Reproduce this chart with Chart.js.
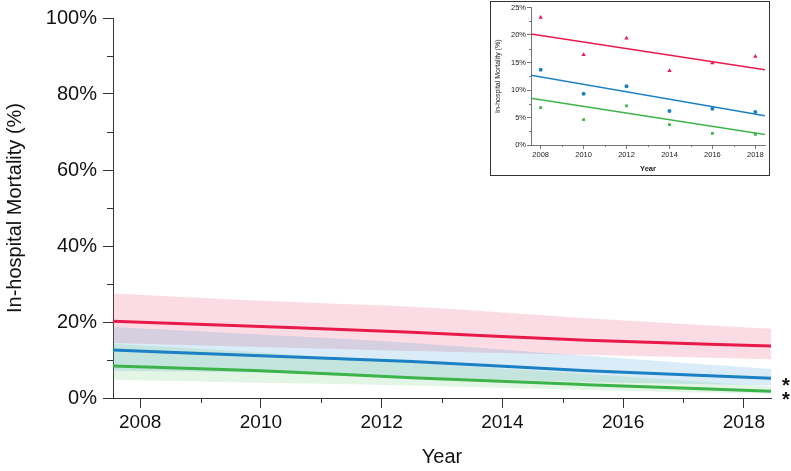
<!DOCTYPE html>
<html>
<head>
<meta charset="utf-8">
<script src="https://cdn.jsdelivr.net/npm/chart.js@4.4.1/dist/chart.umd.min.js"></script>
<style>
  html, body { margin: 0; padding: 0; background: #fff; }
  #wrap { position: relative; width: 791px; height: 471px; }
  #main { position: absolute; left: 0; top: 0; }
  #insetBox { position: absolute; left: 490px; top: 1px; width: 278px; height: 173px; border: 1px solid #333; background: #fff; }
  #inset { position: absolute; left: 0; top: 0; }
</style>
</head>
<body>
<div id="wrap">
  <canvas id="main" width="791" height="471"></canvas>
  <div id="insetBox"><canvas id="inset" width="278" height="173"></canvas></div>
</div>
<script>
// ---- main chart data (model fit with confidence band) ----
const fitYears   = [2007.55, 2010, 2012.5, 2015.4, 2018.45];
const redFit     = [20.2, 18.8, 17.3, 15.2, 13.7];
const redUpper   = [27.5, 25.6, 24.0, 21.0, 18.2];
const redLower   = [14.5, 13.4, 12.4, 11.3, 10.2];
const blueFit    = [12.6, 11.1, 9.6, 7.2, 5.2];
const blueUpper  = [18.7, 16.7, 14.5, 11.1, 7.6];
const blueLower  = [7.2, 6.7, 5.6, 4.2, 3.3];
const greenFit   = [8.4, 7.2, 5.3, 3.5, 1.8];
const greenUpper = [14.3, 12.0, 9.3, 6.3, 3.0];
const greenLower = [4.8, 4.0, 3.3, 2.1, 1.1];
const mainYTicks = [0, 20, 40, 60, 80, 100];
const mainYMinor = [10, 30, 50, 70, 90];
const mainXTicks = [2008, 2010, 2012, 2014, 2016, 2018];
const mainXMinor = [2009, 2011, 2013, 2015, 2017];

// ---- inset data (observed yearly values and linear trends) ----
const obsYears   = [2008, 2010, 2012, 2014, 2016, 2018];
const redObs     = [23.2, 16.4, 19.4, 13.5, 14.9, 16.1];
const blueObs    = [13.7, 9.3, 10.7, 6.2, 6.6, 6.0];
const greenObs   = [6.8, 4.6, 7.1, 3.7, 2.1, 1.95];
const trendYears = [2007.55, 2018.45];
const redTrend   = [20.2, 13.7];
const blueTrend  = [12.7, 5.3];
const greenTrend = [8.5, 1.9];
const insetYTicks = [0, 5, 10, 15, 20, 25];
const insetYMinor = [2.5, 7.5, 12.5, 17.5, 22.5];
const insetXTicks = [2008, 2010, 2012, 2014, 2016, 2018];
const insetXMinor = [2009, 2011, 2013, 2015, 2017];

const RED = '#e8194b', BLUE = '#1b80c4', GREEN = '#3cb44a';
const RED_BAND = 'rgba(240,80,120,0.20)';
const BLUE_BAND = 'rgba(30,140,210,0.17)';
const GREEN_BAND = 'rgba(70,190,80,0.15)';

const pts = (xs, ys) => xs.map((x, i) => ({x: x, y: ys[i]}));

const minorTicksPlugin = {
  id: 'minorTicks',
  afterDraw(chart, args, opts) {
    const ctx = chart.ctx;
    const xs = chart.scales.x, ys = chart.scales.y;
    ctx.save();
    ctx.strokeStyle = opts.color;
    ctx.lineWidth = 1;
    ctx.beginPath();
    (opts.y || []).forEach(v => {
      const py = Math.round(ys.getPixelForValue(v)) + 0.5;
      ctx.moveTo(ys.right, py); ctx.lineTo(ys.right - opts.lenY, py);
    });
    (opts.x || []).forEach(v => {
      const px = Math.round(xs.getPixelForValue(v)) + 0.5;
      ctx.moveTo(px, xs.top); ctx.lineTo(px, xs.top + opts.lenX);
    });
    ctx.stroke();
    ctx.restore();
  }
};

const asteriskPlugin = {
  id: 'asterisks',
  afterDraw(chart, args, opts) {
    if (!opts.items) return;
    const ctx = chart.ctx;
    const ys = chart.scales.y;
    ctx.save();
    ctx.fillStyle = '#111';
    ctx.font = 'bold 20px "Liberation Sans", Arial, sans-serif';
    ctx.textAlign = 'center';
    ctx.textBaseline = 'alphabetic';
    opts.items.forEach(it => {
      const py = ys.getPixelForValue(it.value);
      ctx.fillText('*', chart.chartArea.right + 15, py + it.dy);
    });
    ctx.restore();
  }
};

const FONT = '"Liberation Sans", Arial, Helvetica, sans-serif';

new Chart(document.getElementById('main'), {
  type: 'line',
  data: {
    datasets: [
      {data: pts(fitYears, redFit), borderColor: RED, borderWidth: 3, pointRadius: 0, fill: false, order: 1, cubicInterpolationMode: 'monotone'},
      {data: pts(fitYears, blueFit), borderColor: BLUE, borderWidth: 3, pointRadius: 0, fill: false, order: 1, cubicInterpolationMode: 'monotone'},
      {data: pts(fitYears, greenFit), borderColor: GREEN, borderWidth: 3, pointRadius: 0, fill: false, order: 1, cubicInterpolationMode: 'monotone'},
      {data: pts(fitYears, redUpper), borderWidth: 0, borderColor: 'transparent', backgroundColor: RED_BAND, pointRadius: 0, fill: '+1', order: 5, cubicInterpolationMode: 'monotone'},
      {data: pts(fitYears, redLower), borderWidth: 0, borderColor: 'transparent', pointRadius: 0, fill: false, order: 5, cubicInterpolationMode: 'monotone'},
      {data: pts(fitYears, blueUpper), borderWidth: 0, borderColor: 'transparent', backgroundColor: BLUE_BAND, pointRadius: 0, fill: '+1', order: 4, cubicInterpolationMode: 'monotone'},
      {data: pts(fitYears, blueLower), borderWidth: 0, borderColor: 'transparent', pointRadius: 0, fill: false, order: 4, cubicInterpolationMode: 'monotone'},
      {data: pts(fitYears, greenUpper), borderWidth: 0, borderColor: 'transparent', backgroundColor: GREEN_BAND, pointRadius: 0, fill: '+1', order: 3, cubicInterpolationMode: 'monotone'},
      {data: pts(fitYears, greenLower), borderWidth: 0, borderColor: 'transparent', pointRadius: 0, fill: false, order: 3, cubicInterpolationMode: 'monotone'}
    ]
  },
  options: {
    responsive: false,
    animation: false,
    events: [],
    layout: {padding: {top: 12, right: 20, left: 0, bottom: 0}},
    plugins: {
      legend: {display: false},
      tooltip: {enabled: false},
      minorTicks: {x: mainXMinor, y: mainYMinor, lenX: 5, lenY: 6, color: '#333'},
      asterisks: {items: [{value: blueFit[blueFit.length - 1], dy: 14}, {value: greenFit[greenFit.length - 1], dy: 15}]}
    },
    scales: {
      x: {
        type: 'linear', min: fitYears[0], max: fitYears[fitYears.length - 1],
        afterBuildTicks: s => { s.ticks = mainXTicks.map(v => ({value: v})); },
        afterFit: s => { s.height = 73; },
        grid: {drawOnChartArea: false, drawTicks: true, tickLength: 10, color: '#333'},
        border: {display: true, color: '#333', width: 1},
        ticks: {color: '#111', font: {family: FONT, size: 19}, padding: 3, maxRotation: 0, callback: v => String(v)},
        title: {display: true, text: 'Year', color: '#111', font: {family: FONT, size: 20}, padding: {top: 0, bottom: 2}}
      },
      y: {
        type: 'linear', min: 0, max: 100,
        afterBuildTicks: s => { s.ticks = mainYTicks.map(v => ({value: v})); },
        afterFit: s => { s.width = 113; },
        grid: {drawOnChartArea: false, drawTicks: true, tickLength: 10, color: '#333'},
        border: {display: true, color: '#333', width: 1},
        ticks: {color: '#111', font: {family: FONT, size: 20}, padding: 6, callback: v => v + '%'},
        title: {display: true, text: 'In-hospital Mortality (%)', color: '#111', font: {family: FONT, size: 20}, padding: {top: 3, bottom: 0}}
      }
    }
  },
  plugins: [minorTicksPlugin, asteriskPlugin]
});

const pointDs = (ys, color, style, r) => ({
  type: 'scatter', data: pts(obsYears, ys), showLine: false, pointStyle: style, pointRadius: r,
  backgroundColor: color, borderColor: color, borderWidth: 0, order: 0
});
const trendDs = (ys, color) => ({
  data: pts(trendYears, ys), borderColor: color, borderWidth: 1.5, pointRadius: 0, fill: false, order: 1
});

new Chart(document.getElementById('inset'), {
  type: 'line',
  data: {
    datasets: [
      trendDs(redTrend, RED), trendDs(blueTrend, BLUE), trendDs(greenTrend, GREEN),
      pointDs(redObs, RED, 'triangle', 2.5), pointDs(blueObs, BLUE, 'circle', 2), pointDs(greenObs, GREEN, 'rect', 2)
    ]
  },
  options: {
    responsive: false,
    animation: false,
    events: [],
    layout: {padding: {top: 5, right: 2, left: 0, bottom: 0}},
    plugins: {
      legend: {display: false},
      tooltip: {enabled: false},
      minorTicks: {x: insetXMinor, y: insetYMinor, lenX: 2, lenY: 2, color: '#777'}
    },
    scales: {
      x: {
        type: 'linear', min: trendYears[0], max: trendYears[1],
        afterBuildTicks: s => { s.ticks = insetXTicks.map(v => ({value: v})); },
        afterFit: s => { s.height = 30; },
        grid: {drawOnChartArea: false, drawTicks: true, tickLength: 4, color: '#777'},
        border: {display: true, color: '#777', width: 1},
        ticks: {color: '#222', font: {family: FONT, size: 7.5}, padding: 1, maxRotation: 0, callback: v => String(v)},
        title: {display: true, text: 'Year', color: '#222', font: {family: FONT, size: 7.5, weight: 'bold'}, padding: {top: 0, bottom: 2}}
      },
      y: {
        type: 'linear', min: 0, max: 25,
        afterBuildTicks: s => { s.ticks = insetYTicks.map(v => ({value: v})); },
        afterFit: s => { s.width = 40; },
        grid: {drawOnChartArea: false, drawTicks: true, tickLength: 4, color: '#777'},
        border: {display: true, color: '#777', width: 1},
        ticks: {color: '#222', font: {family: FONT, size: 7.5}, padding: 1, callback: v => v + '%'},
        title: {display: true, text: 'In-hospital Mortality (%)', color: '#222', font: {family: FONT, size: 7}, padding: {top: 3, bottom: 0}}
      }
    }
  },
  plugins: [minorTicksPlugin]
});
</script>
</body>
</html>
